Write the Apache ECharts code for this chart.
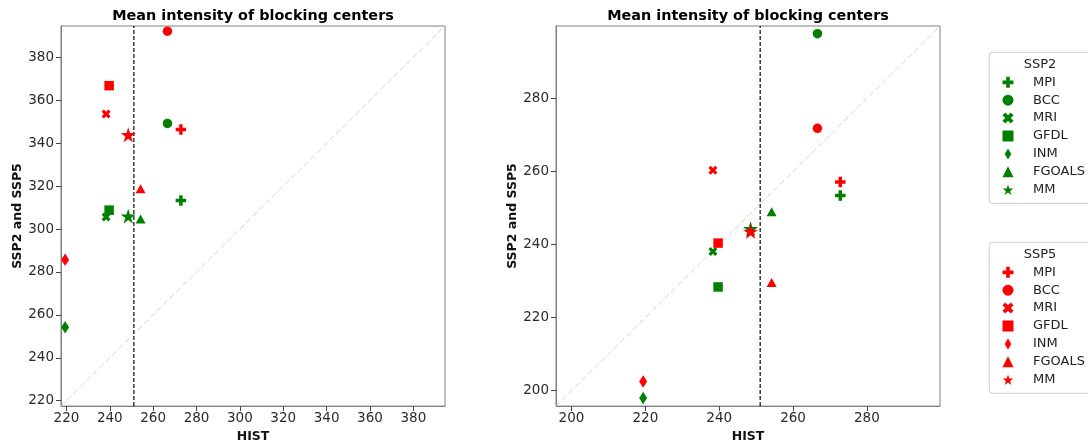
<!DOCTYPE html>
<html><head><meta charset="utf-8">
<script src="https://cdn.jsdelivr.net/npm/echarts@6/dist/echarts.min.js"></script>
<style>html,body{margin:0;padding:0;background:#fff}#c{width:1088px;height:448px}</style>
</head><body><div id="c"></div>
<script>
// ---- data ----
const models = ['MPI', 'BCC', 'MRI', 'GFDL', 'INM', 'FGOALS', 'MM'];
const scenarios = ['SSP2', 'SSP5'];
const hist = [272.8, 266.6, 238.3, 239.7, 219.4, 254.2, 248.5];
const leftSSP2 = [313.3, 349.2, 305.6, 308.8, 254.2, 304.7, 306.0];
const leftSSP5 = [346.4, 392.2, 353.6, 366.8, 285.7, 318.8, 343.9];
const rightSSP2 = [253.4, 297.7, 238.1, 228.4, 198.0, 249.0, 244.3];
const rightSSP5 = [257.1, 271.8, 260.3, 240.4, 202.5, 229.6, 243.6];
const histReference = 251.1;
const leftLimits = [217.5, 394.6];
const rightLimits = [195.8, 299.8];
const leftTicks = [220, 240, 260, 280, 300, 320, 340, 360, 380];
const rightTicks = [200, 220, 240, 260, 280];
const chartTitle = 'Mean intensity of blocking centers';
const xName = 'HIST';
const yName = 'SSP2 and SSP5';

// ---- styles ----
const FONT = 'DejaVu Sans';
const colors = ['#008000', '#ff0000'];
const STAR = 'path://M0,-100L22.45,-30.9L95.11,-30.9L36.33,11.8L58.78,80.9L0,38.2L-58.78,80.9L-36.33,11.8L-95.11,-30.9L-22.45,-30.9Z';
const symbols = [
  'path://M2,0H4V2H6V4H4V6H2V4H0V2H2Z',
  'circle',
  'path://M0,2.5L2.5,0L5,2.5L7.5,0L10,2.5L7.5,5L10,7.5L7.5,10L5,7.5L2.5,10L0,7.5L2.5,5Z',
  'rect',
  'path://M3,0L6,5L3,10L0,5Z',
  'triangle',
  STAR
];
const sizes = [10.5, 9.5, 9, 9.5, [8, 12.5], [10, 9], 15];

const panels = [
  { limits: leftLimits, ticks: leftTicks, vals: [leftSSP2, leftSSP5], left: 61 },
  { limits: rightLimits, ticks: rightTicks, vals: [rightSSP2, rightSSP5], left: 556 }
];
const GRID_TOP = 26, GRID_SIZE = 384;

const series = [];
panels.forEach((p, pi) => {
  series.push({
    type: 'line', xAxisIndex: pi, yAxisIndex: pi, silent: true, z: 1,
    data: [[p.limits[0], p.limits[0]], [p.limits[1], p.limits[1]]],
    symbol: 'none', lineStyle: { color: '#d3d3d3', width: 1, type: [6, 3] }
  });
  series.push({
    type: 'line', xAxisIndex: pi, yAxisIndex: pi, silent: true, z: 2,
    data: [[histReference, p.limits[0]], [histReference, p.limits[1]]],
    symbol: 'none', lineStyle: { color: '#1a1a1a', width: 1.3, type: [4, 2] }
  });
  scenarios.forEach((sc, si) => {
    models.forEach((m, mi) => {
      series.push({
        type: 'scatter', name: sc + ' ' + m, xAxisIndex: pi, yAxisIndex: pi,
        data: [[hist[mi], p.vals[si][mi]]],
        symbol: symbols[mi], symbolSize: sizes[mi], symbolKeepAspect: false,
        itemStyle: { color: colors[si], opacity: 1 }, z: 3 + si
      });
    });
  });
});

const axisCommon = (p, pi, isX) => ({
  type: 'value', gridIndex: pi, min: p.limits[0], max: p.limits[1],
  name: isX ? xName : yName, nameLocation: 'middle', nameGap: isX ? 22 : 36,
  nameTextStyle: { fontFamily: FONT, fontWeight: 'bold', fontSize: 12.5, color: '#111' },
  axisLine: { show: true, lineStyle: { color: '#808080', width: 1 } },
  splitLine: { show: false },
  axisTick: { show: true, length: 5, lineStyle: { color: '#444' }, customValues: p.ticks },
  axisLabel: { customValues: p.ticks, fontFamily: FONT, fontSize: 13.5, color: '#2a2a2a', margin: isX ? 5 : 7 }
});

const legendTops = [52.3, 242.3];
const graphic = [];
panels.forEach(p => {
  graphic.push({
    type: 'text', x: p.left + GRID_SIZE / 2, y: 16, z: 10,
    style: { text: chartTitle, x: 0, y: 0, align: 'center', verticalAlign: 'middle', fontFamily: FONT, fontWeight: 'bold', fontSize: 14.4, fill: '#000' }
  });
});
scenarios.forEach((sc, si) => {
  graphic.push({
    type: 'rect', x: 989.3, y: legendTops[si], z: 0,
    shape: { x: 0, y: 0, width: 110, height: 151, r: 3 },
    style: { fill: '#fff', stroke: '#cccccc', lineWidth: 1 }
  });
  graphic.push({
    type: 'text', x: 1040, y: legendTops[si] + 12.5, z: 10,
    style: { text: sc, align: 'center', verticalAlign: 'middle', fontFamily: FONT, fontSize: 13, fill: '#222' }
  });
});

const option = {
  animation: false,
  backgroundColor: '#fff',
  grid: panels.map(p => ({ left: p.left, top: GRID_TOP, width: GRID_SIZE, height: GRID_SIZE, show: true, borderColor: '#808080', borderWidth: 1, backgroundColor: 'transparent' })),
  xAxis: panels.map((p, pi) => axisCommon(p, pi, true)),
  yAxis: panels.map((p, pi) => axisCommon(p, pi, false)),
  legend: scenarios.map((sc, si) => ({
    orient: 'vertical', left: 1002.5, top: legendTops[si] + 23, padding: 0,
    itemGap: 3.9, itemWidth: 11, itemHeight: 11, selectedMode: false, z: 20,
    data: models.map(m => sc + ' ' + m),
    formatter: n => n.split(' ')[1],
    textStyle: { fontFamily: FONT, fontSize: 13, lineHeight: 14, color: '#222', padding: [0, 0, 0, 14.5] }
  })),
  graphic: graphic,
  series: series
};
const chart = echarts.init(document.getElementById('c'), null, { renderer: 'canvas' });
chart.setOption(option);
</script></body></html>
